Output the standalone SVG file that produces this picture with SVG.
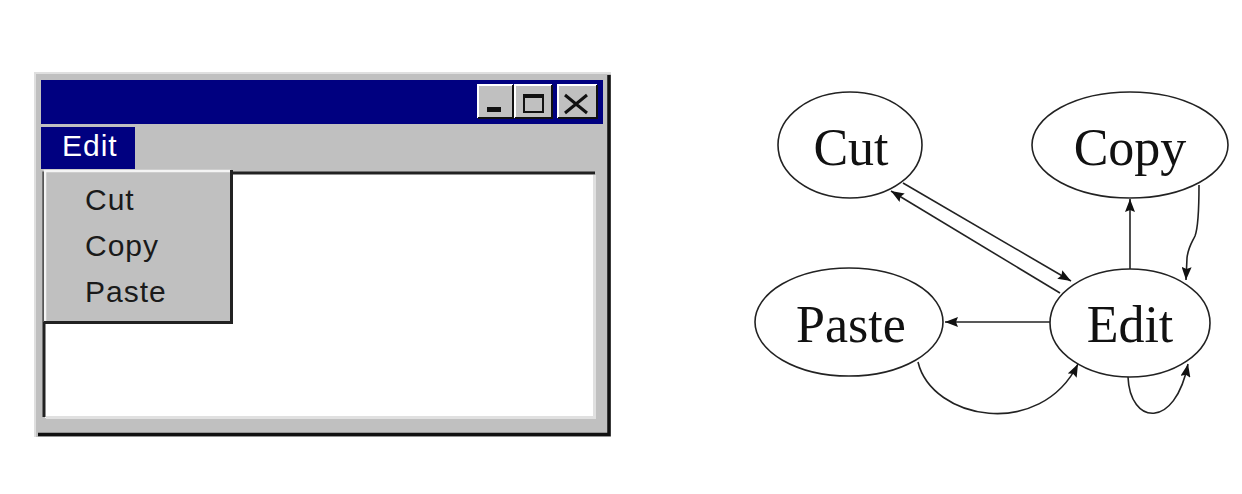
<svg xmlns="http://www.w3.org/2000/svg" width="1242" height="494" viewBox="0 0 1242 494">
  <style>
    .ui { font-family: "Liberation Sans", Arial, sans-serif; font-size: 30px; letter-spacing: 1px; }
    .node ellipse { fill: #fff; stroke: #222; stroke-width: 1.6; }
    .node text { font-family: "Liberation Serif", "Times New Roman", serif; font-size: 52px; fill: #111; text-anchor: middle; }
    .edge { fill: none; stroke: #222; stroke-width: 1.6; }
    .btn-face { fill: #c0c0c0; }
  </style>
  <defs>
    <marker id="arrow" viewBox="0 0 13 10" refX="13" refY="5" markerWidth="13" markerHeight="10" markerUnits="userSpaceOnUse" orient="auto">
      <path d="M0,0 L13,5 L0,10 L2,5 Z" fill="#111"/>
    </marker>
  </defs>

  <rect width="1242" height="494" fill="#fff"/>

  <!-- Window with an open Edit menu -->
  <g id="window">
    <!-- outer frame -->
    <rect x="35" y="73" width="576" height="364" fill="#c0c0c0"/>
    <path d="M35,437 V73 H611" fill="none" stroke="#dfdfdf" stroke-width="2"/>
    <path d="M38,434.5 H609 V75" fill="none" stroke="#111" stroke-width="3.5"/>

    <!-- title bar -->
    <rect x="41" y="80" width="562" height="44" fill="#000080"/>

    <!-- title buttons -->
    <g id="btn-min">
      <rect x="478" y="85" width="35" height="33" class="btn-face"/>
      <path d="M478,118 V85 H513" fill="none" stroke="#fff" stroke-width="2"/>
      <path d="M478,118 H513 V85" fill="none" stroke="#111" stroke-width="2"/>
      <rect x="487" y="107" width="14" height="5" fill="#111"/>
    </g>
    <g id="btn-max">
      <rect x="515" y="85" width="37" height="33" class="btn-face"/>
      <path d="M515,118 V85 H552" fill="none" stroke="#fff" stroke-width="2"/>
      <path d="M515,118 H552 V85" fill="none" stroke="#111" stroke-width="2"/>
      <rect x="524" y="95" width="19" height="17" fill="none" stroke="#111" stroke-width="2"/>
      <rect x="524" y="94" width="19" height="4" fill="#111"/>
    </g>
    <g id="btn-close">
      <rect x="558" y="85" width="39" height="33" class="btn-face"/>
      <path d="M558,118 V85 H597" fill="none" stroke="#fff" stroke-width="2"/>
      <path d="M558,118 H597 V85" fill="none" stroke="#111" stroke-width="2"/>
      <path d="M565,95 L587,113 M587,95 L565,113" stroke="#111" stroke-width="3"/>
    </g>

    <!-- menu bar -->
    <rect x="41" y="127" width="94" height="42" fill="#000080"/>
    <text x="62" y="156" class="ui" fill="#fff">Edit</text>

    <!-- client area -->
    <rect x="45" y="173" width="550" height="245" fill="#fff"/>
    <path d="M44,417 V173 H595" fill="none" stroke="#222" stroke-width="3"/>
    <path d="M46,417.5 H594.5 V175" fill="none" stroke="#e0e0e0" stroke-width="3"/>

    <!-- drop-down menu -->
    <g id="menu">
      <rect x="44" y="170" width="189" height="154" fill="#c0c0c0"/>
      <path d="M45,322 V171 H231" fill="none" stroke="#f4f4f4" stroke-width="2.5"/>
      <path d="M44,322.5 H231.5 V170" fill="none" stroke="#222" stroke-width="3"/>
      <text x="85" y="210" class="ui" fill="#1a1a1a">Cut</text>
      <text x="85" y="256" class="ui" fill="#1a1a1a">Copy</text>
      <text x="85" y="302" class="ui" fill="#1a1a1a">Paste</text>
    </g>
  </g>

  <!-- State graph -->
  <g id="connectors">
    <!-- Edit -> Paste -->
    <path class="edge" d="M1050,322 L945,322" marker-end="url(#arrow)"/>
    <!-- Edit -> Copy -->
    <path class="edge" d="M1130,270 L1130,199" marker-end="url(#arrow)"/>
    <!-- Copy -> Edit -->
    <path class="edge" d="M1199,185 C1199,210 1198,228 1195,236 C1191,244 1188,248 1187,258 L1186,280" marker-end="url(#arrow)"/>
    <!-- Cut -> Edit -->
    <path class="edge" d="M903,183 L1071,281" marker-end="url(#arrow)"/>
    <!-- Edit -> Cut -->
    <path class="edge" d="M1060,293 L891,191" marker-end="url(#arrow)"/>
    <!-- Paste -> Edit -->
    <path class="edge" d="M918,362 C932,420 1040,440 1078,364" marker-end="url(#arrow)"/>
    <!-- Edit -> Edit -->
    <path class="edge" d="M1128,377 C1130,425 1175,430 1188,364" marker-end="url(#arrow)"/>
  </g>

  <g id="node-cut" class="node">
    <ellipse cx="850" cy="145" rx="72" ry="53"/>
    <text x="851" y="165">Cut</text>
  </g>
  <g id="node-copy" class="node">
    <ellipse cx="1130" cy="145" rx="98" ry="53"/>
    <text x="1130" y="165">Copy</text>
  </g>
  <g id="node-paste" class="node">
    <ellipse cx="849" cy="322" rx="94" ry="54"/>
    <text x="851" y="342">Paste</text>
  </g>
  <g id="node-edit" class="node">
    <ellipse cx="1130" cy="323" rx="80" ry="54"/>
    <text x="1130" y="342">Edit</text>
  </g>
</svg>
